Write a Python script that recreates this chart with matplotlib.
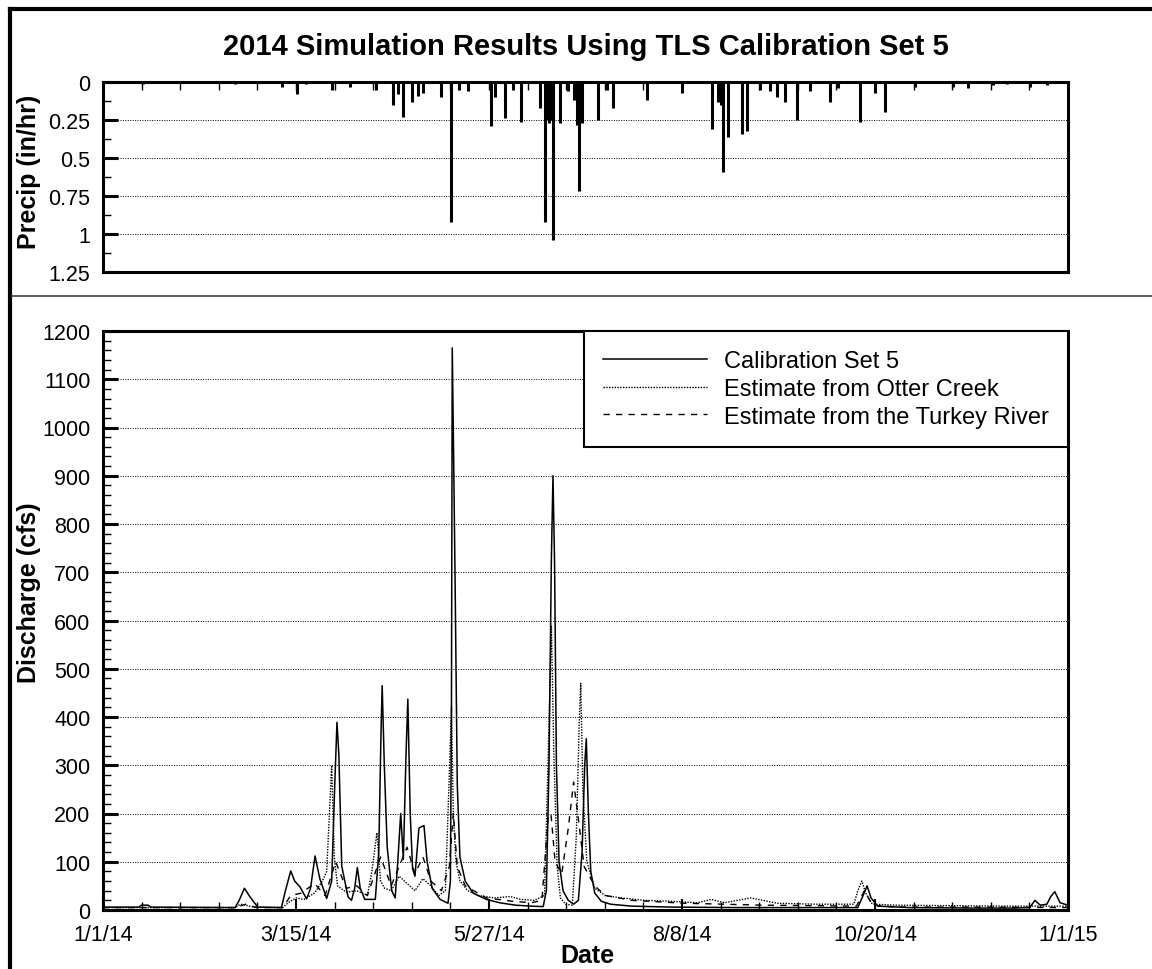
import matplotlib
matplotlib.use("Agg")
import matplotlib.pyplot as plt
from matplotlib.lines import Line2D
from matplotlib.ticker import MultipleLocator, FixedLocator

plt.rcParams['font.family'] = ['Liberation Sans', 'DejaVu Sans']

# days since 1/1/14
date_ticks = [0, 73, 146, 219, 292, 365]
date_labels = ['1/1/14', '3/15/14', '5/27/14', '8/8/14', '10/20/14', '1/1/15']

# precipitation (in/hr)
precip_day = [15, 49.9, 67.7, 73.4, 76.8, 86.6, 93.4, 103.2, 109.7, 111.6, 113.5, 116.9,
              119.1, 121.0, 127.8, 131.6, 134.6, 138.0, 146.7, 148.3, 152.0, 155.1, 158.1,
              165.3, 167.2, 167.9, 168.7, 169.4, 170.2, 172.8, 175.9, 178.1, 179.3, 180.0,
              181.2, 187.2, 190.6, 192.9, 205.7, 219.0, 230.3, 232.6, 233.7, 234.5, 236.4,
              241.7, 243.6, 248.5, 252.3, 254.9, 257.9, 262.5, 267.4, 274.9, 278.0, 286.3,
              292.0, 295.8, 307.1, 321.5, 327.1, 336.6, 341.9, 350.6, 357.0]
precip_val = [0.01, 0.01, 0.03, 0.08, 0.01, 0.05, 0.03, 0.05, 0.15, 0.08, 0.23, 0.13,
              0.09, 0.07, 0.10, 0.92, 0.05, 0.06, 0.29, 0.10, 0.24, 0.05, 0.26,
              0.17, 0.92, 0.25, 0.27, 0.25, 1.04, 0.27, 0.06, 0.12, 0.28, 0.72,
              0.27, 0.25, 0.05, 0.17, 0.12, 0.07, 0.31, 0.13, 0.15, 0.59, 0.36,
              0.34, 0.32, 0.05, 0.06, 0.10, 0.13, 0.25, 0.06, 0.13, 0.04, 0.26,
              0.07, 0.20, 0.03, 0.03, 0.04, 0.02, 0.01, 0.03, 0.02]

# Calibration Set 5 (cfs)
calib_day = [0, 13.5, 14.5, 17, 18, 50, 51.5, 53.5, 55.5, 58.5,
             67.5, 69, 71, 72.5, 74.5, 77, 78.5, 80.2, 82, 84.6,
             86.5, 87.6, 88.5, 89.2, 90.3, 92.7, 94, 95.2, 96.2, 97.3,
             99, 103, 104.3, 105.2, 105.6, 106.4, 107.5, 109.2, 110.5, 111.5,
             112.6, 113.6, 114.6, 115.3, 116.2, 117.1, 118, 119.5, 121.4, 122.6,
             124.5, 127.5, 130.5, 131.4, 131.8, 132.1, 132.6, 133.2, 134, 135,
             137, 140, 145, 150, 156, 162, 166.5, 167.7, 168.7, 169.6,
             170.2, 170.8, 171.5, 172.5, 174, 176, 178, 179.8, 181.2, 182.2,
             182.8, 183.6, 184.5, 186, 188.5, 192, 200, 215, 240, 265,
             285.5, 287.5, 289, 290.5, 293, 305, 330, 345, 350.5, 352.5,
             354.5, 357, 358.5, 360, 362, 365]
calib_q = [6, 6, 10, 10, 6, 5, 20, 45, 28, 6,
           5, 40, 81, 60, 48, 23, 45, 112, 65, 24,
           60, 250, 389, 323, 91, 27, 20, 45, 88, 45,
           22, 22, 120, 380, 465, 300, 130, 40, 25, 100,
           200, 105, 320, 437, 200, 85, 70, 170, 175, 100,
           45, 22, 14, 60, 420, 1165, 950, 670, 260, 110,
           60, 35, 22, 15, 10, 8, 7, 40, 300, 730,
           900, 720, 300, 100, 40, 20, 12, 20, 120, 300,
           355, 200, 80, 35, 18, 12, 8, 6, 5, 5,
           5, 30, 50, 25, 8, 5, 4, 4, 5, 20,
           10, 12, 28, 38, 15, 10]

# Estimate from Otter Creek (cfs)
otter_day = [0, 50, 52, 54, 57, 68, 70, 73, 76, 80,
             83, 84.6, 86.5, 87.5, 88.7, 92, 96, 100, 101.7, 103.6,
             105, 106.5, 109, 112, 115, 118, 121, 124, 127, 129.5,
             130.8, 131.8, 132.5, 133.5, 135, 138, 142, 148, 154, 158,
             163, 167, 168.3, 169.6, 170.5, 171.8, 173, 175, 177.5, 179,
             180.2, 180.7, 181.5, 183, 186, 190, 196, 205, 215, 225,
             230, 235, 240, 245, 255, 270, 284, 285.5, 287, 288.5,
             291, 300, 320, 340, 355, 365]
otter_q = [5, 5, 12, 10, 6, 5, 15, 25, 22, 35,
           60, 80, 300, 110, 50, 37, 40, 30, 80, 160,
           60, 45, 40, 70, 55, 40, 65, 50, 30, 40,
           250, 422, 200, 100, 60, 40, 30, 25, 28, 22,
           20, 30, 300, 590, 330, 90, 25, 12, 10, 150,
           400, 470, 250, 100, 45, 30, 25, 20, 18, 15,
           22, 15, 20, 25, 14, 12, 12, 40, 60, 35,
           12, 10, 9, 8, 8, 8]

# Estimate from the Turkey River (cfs)
turkey_day = [0, 50, 54, 58, 68, 71, 75, 80, 84, 88,
              92, 96, 100, 105, 109, 112, 115, 118, 121, 124,
              128, 131, 132.5, 134, 137, 145, 155, 162, 166, 168.5,
              169.5, 171, 173.5, 176, 178, 180, 182, 186, 190, 200,
              220, 250, 285, 288, 291, 300, 330, 365]
turkey_q = [5, 5, 12, 5, 5, 30, 35, 55, 30, 100,
            45, 50, 30, 110, 50, 90, 130, 75, 110, 60,
            40, 90, 200, 90, 50, 25, 18, 15, 20, 200,
            195, 100, 75, 170, 265, 180, 90, 50, 30, 20,
            14, 10, 8, 40, 10, 6, 6, 5]

W, H = 1152, 970
fig = plt.figure(figsize=(W / 100, H / 100), dpi=100)

def fx(px):
    return px / W

def fy(py):
    return 1 - py / H

# outer frame and divider
fig.add_artist(Line2D([fx(10), fx(10)], [0, fy(10)], color='black', lw=3))
fig.add_artist(Line2D([fx(10), 1], [fy(10), fy(10)], color='black', lw=3))
fig.add_artist(Line2D([fx(12), 1], [fy(297), fy(297)], color='#444444', lw=1.2))

L, R = 103, 1068
ax1 = fig.add_axes([fx(L), fy(273), fx(R - L), fy(83) - fy(273)])
ax2 = fig.add_axes([fx(L), fy(911), fx(R - L), fy(332) - fy(911)])

tick_fs = 15.5
lab_fs = 18
grid_kw = dict(color='black', lw=0.7, linestyle=(0, (1, 1.5)))

# precipitation panel
ax1.vlines(precip_day, 0, precip_val, color='black', lw=2.2)
ax1.set_xlim(0, 365)
ax1.set_ylim(1.25, 0)
ax1.set_yticks([0, 0.25, 0.5, 0.75, 1, 1.25])
ax1.set_yticklabels(['0', '0.25', '0.5', '0.75', '1', '1.25'], fontsize=tick_fs)
ax1.yaxis.set_minor_locator(MultipleLocator(0.125))
ax1.xaxis.set_major_locator(MultipleLocator(73 / 5))
ax1.xaxis.tick_top()
ax1.tick_params(axis='x', which='both', direction='in', length=6, width=1, labeltop=False)
ax1.tick_params(axis='y', which='major', direction='in', length=11, width=2.2, pad=9)
ax1.tick_params(axis='y', which='minor', direction='in', length=6, width=1)
ax1.set_ylabel('Precip (in/hr)', fontsize=lab_fs, fontweight='bold')
ax1.yaxis.set_label_coords(-0.064, 0.53)
for yv in [0.25, 0.5, 0.75, 1.0]:
    ax1.axhline(yv, **grid_kw)

# discharge panel
ax2.plot(turkey_day, turkey_q, color='black', lw=1, linestyle=(0, (4.5, 4.5)),
         label='Estimate from the Turkey River', zorder=2)
ax2.plot(otter_day, otter_q, color='black', lw=1, linestyle=(0, (1, 1)),
         label='Estimate from Otter Creek', zorder=3)
ax2.plot(calib_day, calib_q, color='black', lw=1.1, label='Calibration Set 5', zorder=4)
ax2.set_xlim(0, 365)
ax2.set_ylim(0, 1200)
ax2.yaxis.set_major_locator(MultipleLocator(100))
ax2.yaxis.set_minor_locator(MultipleLocator(20))
ax2.xaxis.set_major_locator(FixedLocator(date_ticks))
ax2.xaxis.set_minor_locator(MultipleLocator(73 / 5))
ax2.set_xticklabels(date_labels, fontsize=tick_fs)
for lab in ax2.get_yticklabels():
    lab.set_fontsize(tick_fs)
ax2.tick_params(axis='x', which='major', direction='in', length=8, width=1.5, pad=10)
ax2.tick_params(axis='x', which='minor', direction='in', length=6, width=1)
ax2.tick_params(axis='y', which='major', direction='in', length=11, width=2.2, pad=9)
ax2.tick_params(axis='y', which='minor', direction='in', length=6, width=1)
for yv in range(100, 1200, 100):
    ax2.axhline(yv, **grid_kw)
ax2.set_ylabel('Discharge (cfs)', fontsize=lab_fs, fontweight='bold')
ax2.yaxis.set_label_coords(-0.064, 0.55)
ax2.set_xlabel('Date', fontsize=lab_fs, fontweight='bold')
ax2.xaxis.set_label_coords(0.502, -0.057)

for ax in (ax1, ax2):
    for sp in ax.spines.values():
        sp.set_linewidth(2.2)

h, l = ax2.get_legend_handles_labels()
order = [2, 1, 0]
leg = ax2.legend([h[i] for i in order], [l[i] for i in order], loc='upper right',
                 bbox_to_anchor=(1, 1), borderaxespad=0, fontsize=17,
                 handlelength=4.4, handletextpad=0.75, labelspacing=0.25,
                 fancybox=False, framealpha=1, edgecolor='black', borderpad=0.8)
leg.get_frame().set_linewidth(1.5)

fig.text(fx(586), fy(47), '2014 Simulation Results Using TLS Calibration Set 5',
         ha='center', va='center', fontsize=21, fontweight='bold')

fig.savefig('out.png', dpi=100)
